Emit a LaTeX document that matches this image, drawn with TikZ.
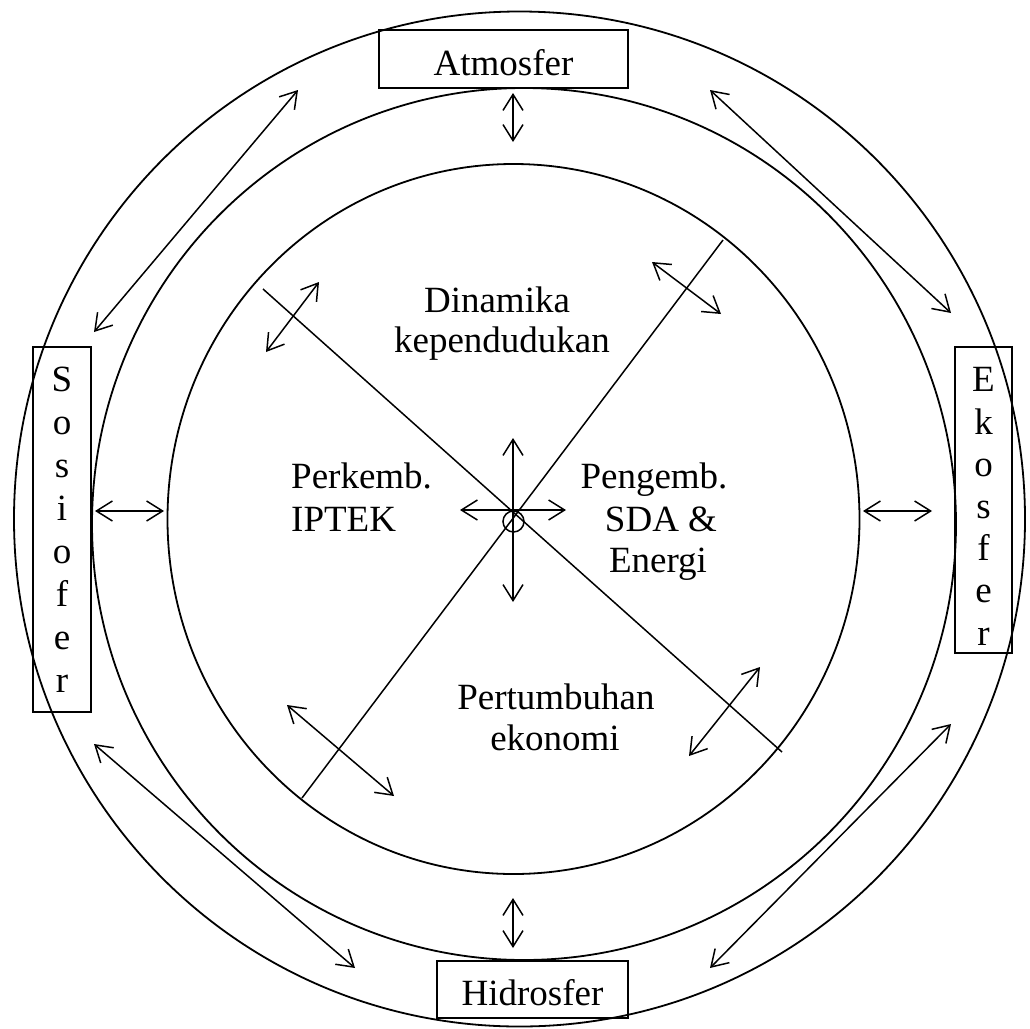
\documentclass[tikz,border=0pt]{standalone}
\usepackage{fontspec}
\setmainfont{Liberation Serif}
\usetikzlibrary{arrows.meta}
\begin{document}
\begin{tikzpicture}[x=1pt,y=-1pt,
  ring/.style={line width=1.8pt},
  divider/.style={line width=1.5pt},
  barb/.tip={Straight Barb[length=16pt,width=20pt,line width=1.5pt]},
  conn/.style={line width=1.5pt,barb-barb},
  sphere/.style={draw,line width=1.6pt,inner sep=0pt,align=center,font=\fontsize{37}{43}\selectfont},
  lbl/.style={anchor=base,inner sep=0pt,font=\fontsize{37}{43}\selectfont}]
\useasboundingbox (0,0) rectangle (1030,1028);

% rings
\draw[ring] (519.5,519) ellipse [x radius=505.5, y radius=507.5];
\draw[ring] (524,524) ellipse [x radius=432, y radius=436];
\draw[ring] (513.5,519) ellipse [x radius=346, y radius=355];

% dividing lines and centre
\coordinate (d1a) at (263,289);
\coordinate (d1b) at (782,752);
\coordinate (d2a) at (723,240);
\coordinate (d2b) at (302,798);
\draw[divider] (d1a) -- (d1b);
\draw[divider] (d2a) -- (d2b);
\node[draw,circle,line width=1.5pt,minimum size=21pt,inner sep=0pt] (hub) at (513.5,521.5) {};

% boxes
\node[sphere,minimum width=249pt,minimum height=58pt,text height=32pt,text depth=0pt] (atm) at (503.5,59) {Atmosfer};
\node[sphere,minimum width=191pt,minimum height=57pt,text height=31pt,text depth=0pt] (hid) at (532.5,989.5) {Hidrosfer};
\node[sphere,minimum width=58pt,minimum height=365pt] (sos) at (62,529.5) {S\\o\\s\\i\\o\\f\\e\\r};
\node[sphere,minimum width=57pt,minimum height=306pt,font=\fontsize{37}{42.2}\selectfont] (eko) at (983.5,500) {\rule{0pt}{37pt}E\\k\\o\\s\\f\\e\\r};

% labels
\node[lbl] (din1) at (497,312) {Dinamika};
\node[lbl] (din2) at (502,352) {kependudukan};
\node[lbl,anchor=base west] (ipt1) at (291,488) {Perkemb.};
\node[lbl,anchor=base west] (ipt2) at (291,531) {IPTEK};
\node[lbl] (sda1) at (654,488) {Pengemb.};
\node[lbl] (sda2) at (661,531) {SDA \&};
\node[lbl] (sda3) at (658,572) {Energi};
\node[lbl] (eko1) at (556,709) {Pertumbuhan};
\node[lbl] (eko2) at (555,750) {ekonomi};

% arrow end points
\coordinate (a1a) at (513,93);   \coordinate (a1b) at (513,142);
\coordinate (a2a) at (513,898);  \coordinate (a2b) at (513,948);
\coordinate (a3a) at (95,511);   \coordinate (a3b) at (164,511);
\coordinate (a4a) at (863,511);  \coordinate (a4b) at (932,511);
\coordinate (a5a) at (298,90);   \coordinate (a5b) at (94,332);
\coordinate (a6a) at (710,90);   \coordinate (a6b) at (951,313);
\coordinate (a7a) at (94,744);   \coordinate (a7b) at (355,968);
\coordinate (a8a) at (951,724);  \coordinate (a8b) at (710,968);
\coordinate (a9a) at (319,282);  \coordinate (a9b) at (266,352);
\coordinate (a10a) at (652,262); \coordinate (a10b) at (721,314);
\coordinate (a11a) at (287,705); \coordinate (a11b) at (394,796);
\coordinate (a12a) at (760,667); \coordinate (a12b) at (689,756);
\coordinate (cu) at (513,438);   \coordinate (cd) at (513,602);
\coordinate (cl) at (460,510);   \coordinate (cr) at (566,510);

\foreach \p in {a1,a2,a3,a4,a5,a6,a7,a8,a9,a10,a11,a12}
  \draw[conn] (\p a) -- (\p b);
\draw[conn] (cu) -- (cd);
\draw[conn] (cl) -- (cr);
\end{tikzpicture}
\end{document}
